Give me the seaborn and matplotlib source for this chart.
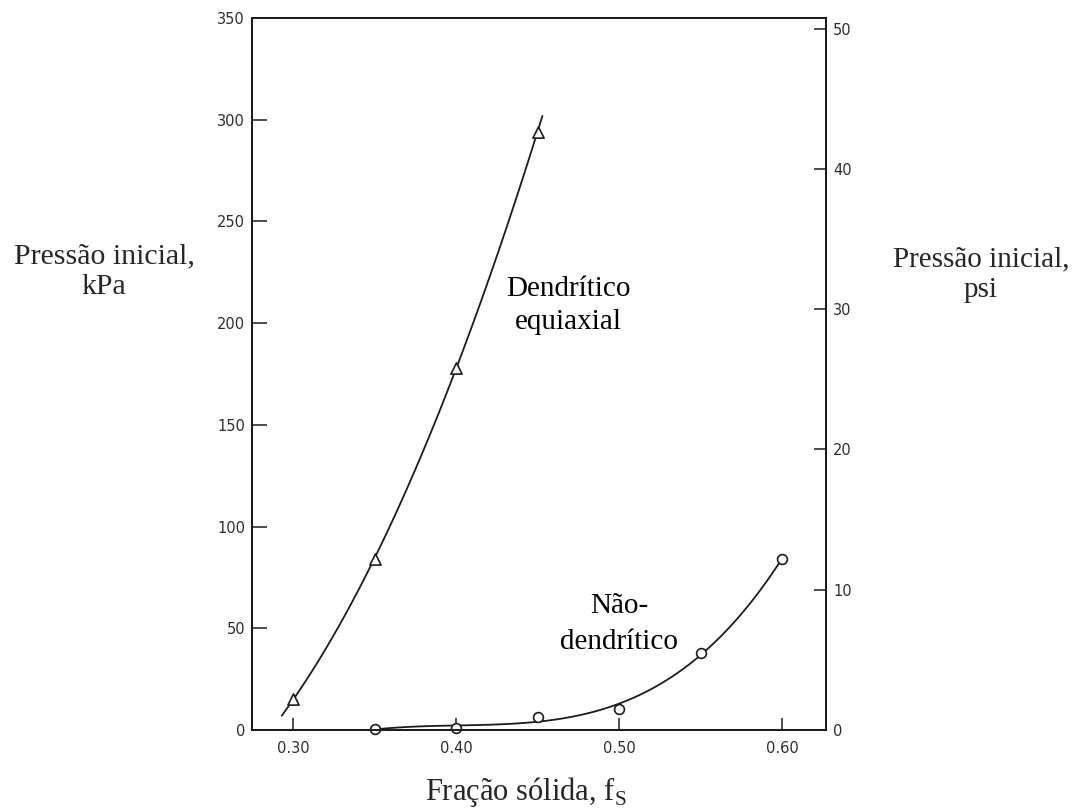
import matplotlib
matplotlib.use("Agg")
import matplotlib.pyplot as plt
import seaborn as sns

# Initial pressure (kPa) versus solid fraction f_S
frac_equiaxed = [0.30, 0.35, 0.40, 0.45]
press_equiaxed = [15, 84, 178, 294]

frac_nondend = [0.35, 0.40, 0.45, 0.50, 0.55, 0.60]
press_nondend = [0.5, 1.0, 6.5, 10.5, 38, 84]

# f_S range covered by each fitted curve
span_equiaxed = (0.293, 0.453)
span_nondend = (0.341, 0.600)

x_ticks = [0.30, 0.40, 0.50, 0.60]
kpa_ticks = [0, 50, 100, 150, 200, 250, 300, 350]
psi_ticks = [0, 10, 20, 30, 40, 50]
KPA_PER_PSI = 6.895

sns.set_style("ticks")
plt.rcParams['font.family'] = ['DejaVu Sans']
plt.rcParams['mathtext.fontset'] = 'custom'
plt.rcParams['mathtext.rm'] = 'Liberation Serif'

INK = '#1c1c1c'
LABEL_INK = '#2e2e2e'
SERIF = 'Liberation Serif'
W, H = 1074, 809

fig = plt.figure(figsize=(W / 100, H / 100), dpi=100)
ax = fig.add_axes([252 / W, 1 - 730 / H, (826 - 252) / W, (730 - 18) / H])

# smooth fitted curves through each data set
for frac, press, span, order in [(frac_equiaxed, press_equiaxed, span_equiaxed, 2),
                                 (frac_nondend, press_nondend, span_nondend, 4)]:
    ax.set_xlim(*span)
    sns.regplot(x=frac, y=press, order=order, ci=None, scatter=False,
                truncate=False, ax=ax,
                line_kws=dict(color=INK, lw=1.3))

sns.scatterplot(x=frac_equiaxed, y=press_equiaxed, marker='^', s=65,
                color='white', edgecolor=INK, linewidth=1.2, ax=ax,
                zorder=3, clip_on=False)
sns.scatterplot(x=frac_nondend, y=press_nondend, marker='o', s=50,
                color='white', edgecolor=INK, linewidth=1.2, ax=ax,
                zorder=3, clip_on=False)

ax.set_xlim(0.2748, 0.627)
ax.set_ylim(0, 350)
ax.set_xticks(x_ticks, labels=[f'{v:.2f}' for v in x_ticks])
ax.set_yticks(kpa_ticks, labels=[str(v) for v in kpa_ticks])
ax.set_xlabel('')
ax.set_ylabel('')
ax.tick_params(axis='x', direction='in', length=8.6, width=1.1, pad=8,
               labelsize=10.5, color=INK, labelcolor=LABEL_INK)
ax.tick_params(axis='y', direction='in', length=10.8, width=1.1, pad=5,
               labelsize=10.5, color=INK, labelcolor=LABEL_INK)

ax2 = ax.twinx()
ax2.set_ylim(0, 350 / KPA_PER_PSI)
ax2.set_yticks(psi_ticks, labels=[str(v) for v in psi_ticks])
ax2.tick_params(axis='y', direction='in', length=9, width=1.1, pad=5,
                labelsize=10.5, color=INK, labelcolor=LABEL_INK)

for a in (ax, ax2):
    for sp in a.spines.values():
        sp.set_visible(True)
        sp.set_linewidth(1.4)
        sp.set_color(INK)

ax.text(0.4687, 197, "Dendrítico\nequiaxial", ha='center', va='baseline',
        family=SERIF, size=21, linespacing=1.36, color='black')
ax.text(0.500, 40, "Não-\ndendrítico", ha='center', va='baseline',
        family=SERIF, size=21, linespacing=1.49, color='black')

fig.text(104 / W, 1 - 294 / H, "Pressão inicial,\nkPa", ha='center',
         va='baseline', family=SERIF, size=21.5, linespacing=1.25)
fig.text(981 / W, 1 - 297 / H, "Pressão inicial,\npsi", ha='center',
         va='baseline', family=SERIF, size=21, linespacing=1.25)
fig.text(526 / W, 1 - 800 / H, r"Fração sólida, f$_\mathrm{S}$", ha='center',
         va='baseline', family=SERIF, size=22)

fig.savefig("out.png", dpi=100, facecolor='white')
